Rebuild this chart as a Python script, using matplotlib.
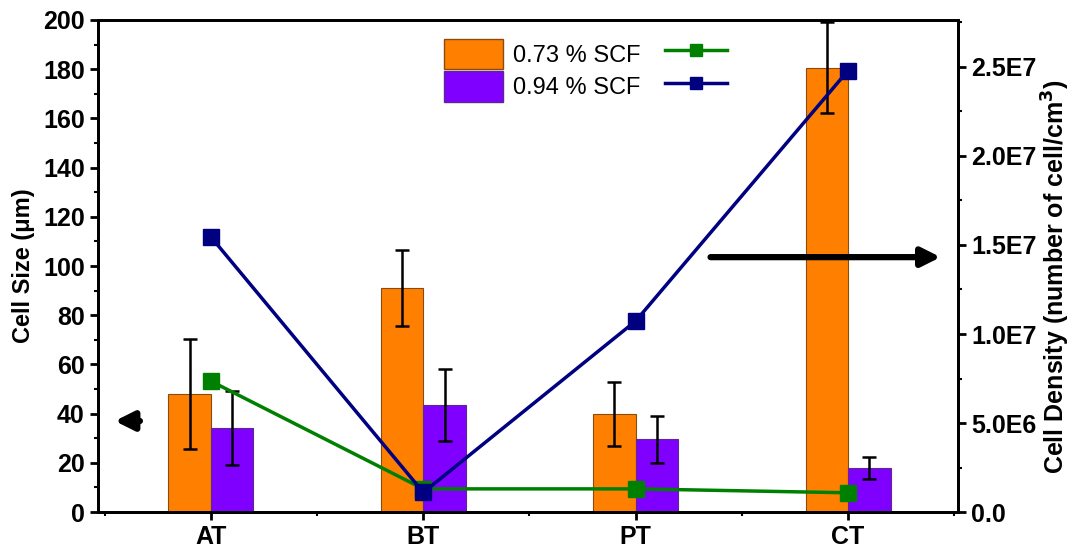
import numpy as np
import matplotlib.pyplot as plt
from matplotlib.patches import Patch
from matplotlib.lines import Line2D
from matplotlib.ticker import MultipleLocator, FuncFormatter

plt.rcParams['font.family'] = ['Liberation Sans', 'DejaVu Sans']

categories = ['AT', 'BT', 'PT', 'CT']
size_073 = [48, 91, 39.7, 180.5]
size_073_err = [22.5, 15.5, 13, 18.5]
size_094 = [34, 43.5, 29.5, 17.8]
size_094_err = [15, 14.5, 9.6, 4.5]
density_073 = [7.35e6, 1.3e6, 1.3e6, 1.08e6]
density_094 = [1.545e7, 1.1e6, 1.073e7, 2.48e7]
labels = ['0.73 % SCF', '0.94 % SCF']

orange = '#FF8000'
purple = '#8000FF'
green = '#008000'
navy = '#000080'

fig = plt.figure(figsize=(10.79, 5.54), dpi=100)
ax = fig.add_axes([0.0908, 0.0758, 0.7971, 0.8881])
x = np.arange(1, len(categories) + 1)
w = 0.2
ekw = dict(ecolor='black', elinewidth=1.8, capsize=5, capthick=1.8)
ax.bar(x - w / 2, size_073, w, color=orange, edgecolor='#8a4a10', linewidth=0.8,
       yerr=size_073_err, error_kw=ekw)
ax.bar(x + w / 2, size_094, w, color=purple, edgecolor='#5a2a90', linewidth=0.8,
       yerr=size_094_err, error_kw=ekw)
ax.set_xlim(0.468, 4.518)
ax.set_ylim(0, 200)
ax.set_xticks(x)
ax.set_xticklabels(categories, fontsize=18, fontweight='bold')
ax.xaxis.set_minor_locator(MultipleLocator(0.5))
ax.yaxis.set_major_locator(MultipleLocator(20))
ax.yaxis.set_minor_locator(MultipleLocator(10))
ax.set_ylabel('Cell Size (\u03bcm)', fontsize=17, fontweight='bold', labelpad=6)
ax.tick_params(axis='both', which='major', direction='out', length=6, width=2)
ax.tick_params(axis='both', which='minor', direction='out', length=3, width=1.5)
ax.tick_params(axis='y', labelsize=18)
for lab in ax.get_yticklabels():
    lab.set_fontweight('bold')
for s in ax.spines.values():
    s.set_linewidth(2)

ax2 = ax.twinx()
ax2.plot(x, density_073, '-s', color=green, lw=2.5, ms=11)
ax2.plot(x, density_094, '-s', color=navy, lw=2.5, ms=11)
ax2.set_ylim(0, 2.764e7)
ax2.yaxis.set_major_locator(MultipleLocator(5e6))
ax2.yaxis.set_minor_locator(MultipleLocator(2.5e6))

def sci(v, pos):
    if v <= 0:
        return '0.0'
    e = int(np.floor(np.log10(v)))
    return f'{v / 10 ** e:.1f}E{e}'

ax2.yaxis.set_major_formatter(FuncFormatter(sci))
ax2.tick_params(axis='y', which='major', direction='out', length=6, width=2, labelsize=18)
ax2.tick_params(axis='y', which='minor', direction='out', length=3, width=1.5)
for lab in ax2.get_yticklabels():
    lab.set_fontweight('bold')
ax2.set_ylabel('Cell Density (number of cell/cm$^\\mathbf{3}$)', fontsize=18,
               fontweight='bold', labelpad=2)
ax2.yaxis.label.set_y(0.478)
for s in ax2.spines.values():
    s.set_linewidth(2)

# arrows pointing to each axis
ax.annotate('', xy=(0.0163, 0.185), xytext=(0.052, 0.185), xycoords='axes fraction',
            arrowprops=dict(arrowstyle='-|>', color='black', lw=4.5, mutation_scale=28))
ax.annotate('', xy=(0.983, 0.518), xytext=(0.709, 0.518), xycoords='axes fraction',
            arrowprops=dict(arrowstyle='-|>', color='black', lw=4.5, mutation_scale=28))

patches = [Patch(facecolor=orange, edgecolor='#8a4a10'), Patch(facecolor=purple, edgecolor='#5a2a90')]
leg1 = ax2.legend(patches, labels, loc='upper left', bbox_to_anchor=(0.378, 1.005),
                  frameon=False, fontsize=17, handlelength=2.5, handleheight=1.6,
                  handletextpad=0.4, labelspacing=0.1)
ax2.add_artist(leg1)
lines = [Line2D([], [], color=green, lw=2.5, marker='s', ms=8),
         Line2D([], [], color=navy, lw=2.5, marker='s', ms=8)]
ax2.legend(lines, ['', ''], loc='upper left', bbox_to_anchor=(0.635, 1.005),
           frameon=False, fontsize=17, handlelength=2.6, handleheight=1.6,
           handletextpad=0, labelspacing=0.1)

fig.savefig('out.png', dpi=100)
